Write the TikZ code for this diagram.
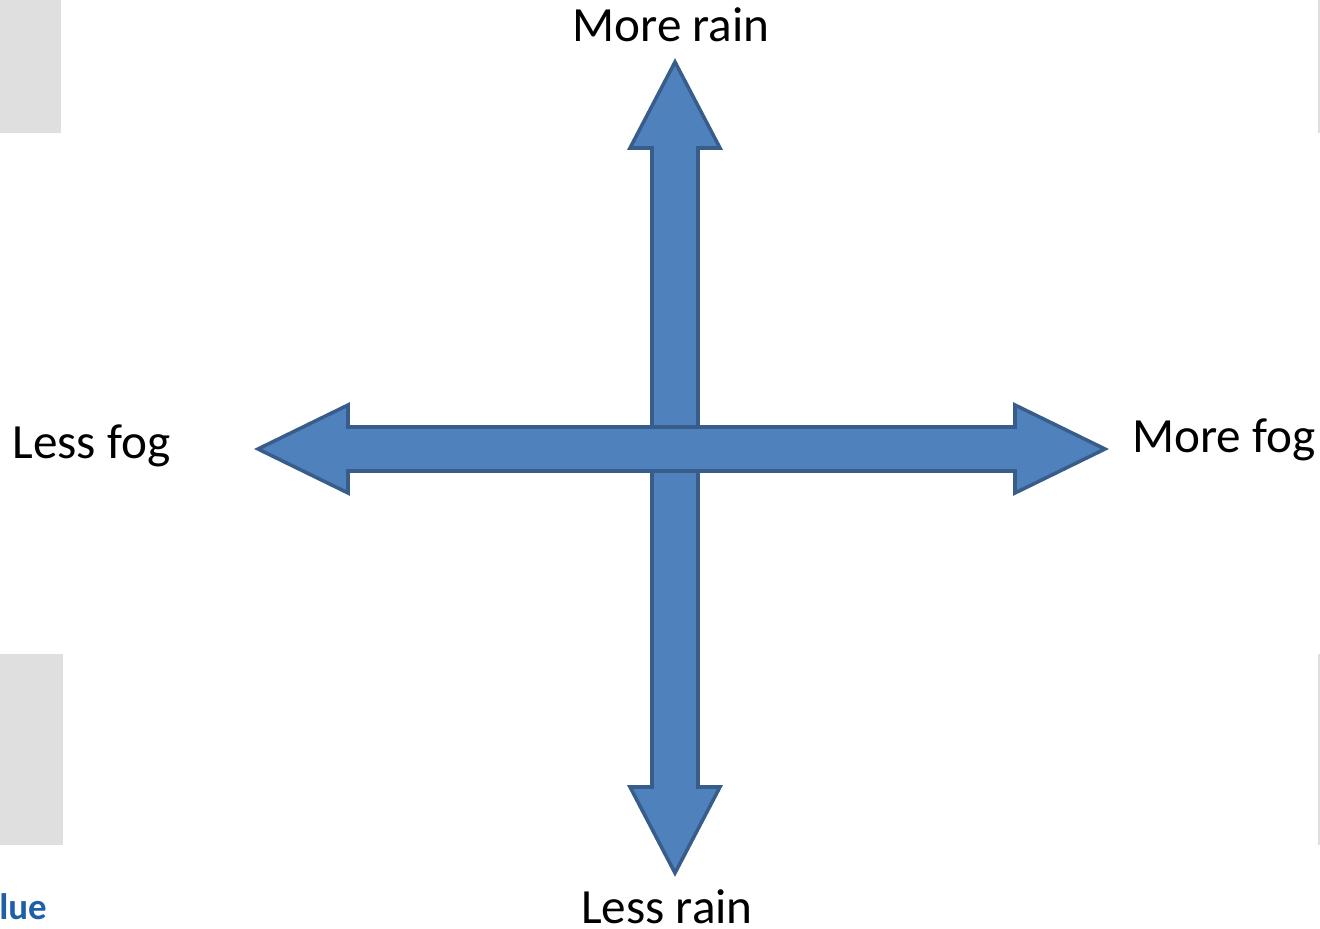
\documentclass[tikz,border=0pt]{standalone}
\usepackage{fontspec}
\setmainfont{Carlito}
\usetikzlibrary{positioning}
\definecolor{ArrowFill}{HTML}{4F81BD}
\definecolor{ArrowLine}{HTML}{385D8A}
\definecolor{PanelGrey}{HTML}{DFDFDF}
\definecolor{LinkBlue}{HTML}{1F5FA8}
\tikzset{
    % Axis label style
    axislabel/.style={
        inner sep=0pt,
        font=\fontsize{28}{34}\selectfont,
        text=black
    },
    % Block arrow style
    blockarrow/.style={
        draw=ArrowLine,
        fill=ArrowFill,
        line width=2pt,
        line join=miter
    },
    % Grey side panel
    panel/.style={
        draw=none,
        fill=PanelGrey
    }
}
\begin{document}
\begin{tikzpicture}[x=0.02cm, y=-0.02cm]
        \useasboundingbox (0,0) rectangle (1320,929);
        \clip (0,0) rectangle (1320,929);

        % Side panels
        \fill[panel] (0,0) rectangle (61,133);
        \fill[panel] (0,654) rectangle (63,845);
        \fill[panel] (1318,0) rectangle (1320,133);
        \fill[panel] (1318,654) rectangle (1320,845);
        \node (cut) [anchor=base west, inner sep=0pt, text=LinkBlue, font=\fontsize{21}{25}\selectfont\bfseries] at (-1,919) {lue};

        % Arrow ends
        \coordinate (raintop) at (675,62);
        \coordinate (rainbot) at (675,873);
        \coordinate (fogleft) at (258,449);
        \coordinate (fogright) at (1105,449);

        % Rain axis
        \draw[blockarrow] (652,148) -- (630,148) -- (raintop) -- (720,148) -- (698,148)
            -- (698,787) -- (720,787) -- (rainbot) -- (630,787) -- (652,787) -- cycle;
        % Fog axis
        \draw[blockarrow] (348,427) -- (348,405) -- (fogleft) -- (348,493) -- (348,471)
            -- (1015,471) -- (1015,493) -- (fogright) -- (1015,405) -- (1015,427) -- cycle;

        % Labels
        \node (morerain) [axislabel, anchor=base] at (671,42) {More rain};
        \node (lessrain) [axislabel, anchor=base] at (667,923) {Less rain};
        \node (lessfog) [axislabel, anchor=base west] at (12,459) {Less fog};
        \node (morefog) [axislabel, anchor=base west] at (1132,453) {More fog};
\end{tikzpicture}
\end{document}
